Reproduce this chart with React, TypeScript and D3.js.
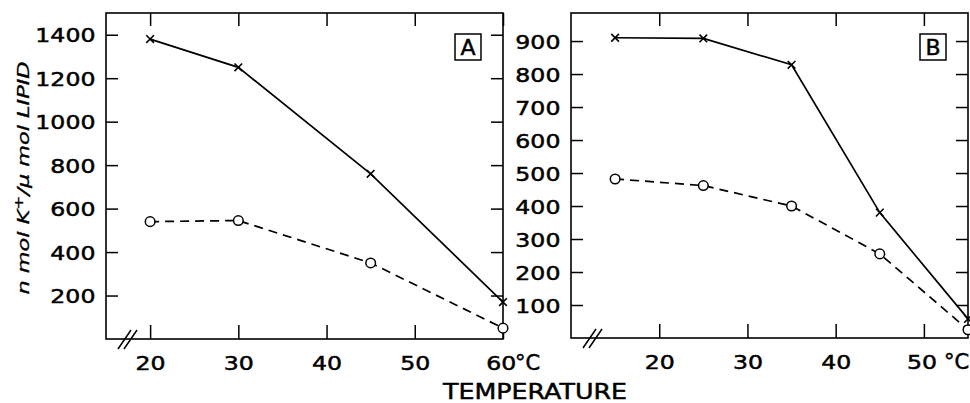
import React, { useRef, useEffect } from 'react';
import * as d3 from 'd3';

// panel A
const tempsA = [20, 30, 45, 60];
const crossA = [1380, 1250, 760, 170];
const circleA = [540, 545, 350, 50];
const xTicksA = [20, 30, 40, 50, 60];
const yTicksA = [200, 400, 600, 800, 1000, 1200, 1400];

// panel B
const tempsB = [15, 25, 35, 45, 55];
const crossB = [910, 908, 828, 380, 58];
const circleB = [482, 462, 400, 255, 25];
const xTicksB = [20, 30, 40, 50];
const yTicksB = [100, 200, 300, 400, 500, 600, 700, 800, 900];

const FONT = 'DejaVu Sans, sans-serif';

const App = () => {
  const ref = useRef(null);

  useEffect(() => {
    const svg = d3.select(ref.current);
    svg.selectAll('*').remove();

    const label = (sel, size) => sel
      .attr('font-family', FONT).attr('font-size', size).attr('fill', '#000')
      .attr('stroke', '#000').attr('stroke-width', 0.5);

    const drawPanel = (opts) => {
      const { left, right, top, bottom, xDomain, yDomain, temps, cross, circle, xTicks, yTicks, letter, unitTick, unitGap } = opts;
      const x = d3.scaleLinear().domain(xDomain).range([left, right]);
      const y = d3.scaleLinear().domain(yDomain).range([bottom, top]);
      const g = svg.append('g');

      const styleAxis = (a) => {
        a.select('.domain').remove();
        a.selectAll('line').attr('stroke', '#000').attr('stroke-width', 1.5);
      };

      // left axis with labels
      g.append('g')
        .attr('transform', `translate(${left},0)`)
        .call(d3.axisLeft(y).tickValues(yTicks).tickSize(-12).tickPadding(9).tickFormat(d3.format('d')))
        .call(styleAxis)
        .call((a) => label(a.selectAll('text'), 20)
          .attr('dy', '0.36em').attr('transform', 'scale(1.18,1)'));

      // right axis ticks
      g.append('g')
        .attr('transform', `translate(${right},0)`)
        .call(d3.axisRight(y).tickValues(yTicks).tickSize(-12).tickFormat(() => ''))
        .call(styleAxis);

      // bottom axis with labels
      g.append('g')
        .attr('transform', `translate(0,${bottom})`)
        .call(d3.axisBottom(x).tickValues(xTicks).tickSize(-14).tickPadding(0).tickFormat(d3.format('d')))
        .call(styleAxis)
        .call((a) => label(a.selectAll('text'), 20)
          .attr('y', 31).attr('dy', 0).attr('transform', 'scale(1.18,1)')
          .attr('x', (d) => (d === unitTick ? -2 : 0)));

      // top axis ticks
      g.append('g')
        .attr('transform', `translate(0,${top})`)
        .call(d3.axisTop(x).tickValues(xTicks).tickSize(-13).tickFormat(() => ''))
        .call(styleAxis);

      // frame
      g.append('rect')
        .attr('x', left).attr('y', top)
        .attr('width', right - left).attr('height', bottom - top)
        .attr('fill', 'none').attr('stroke', '#000').attr('stroke-width', 1.6);

      // axis break
      [0, 6].forEach((o) => {
        g.append('line')
          .attr('x1', left + 12 + o).attr('y1', bottom + 10)
          .attr('x2', left + 25 + o).attr('y2', bottom - 9)
          .attr('stroke', '#000').attr('stroke-width', 1.5);
      });

      // unit label
      label(g.append('text'), 21)
        .attr('x', x(unitTick) + unitGap).attr('y', bottom + 31)
        .attr('transform', null)
        .text('°C');

      // lines
      const line = d3.line().x((d) => x(d[0])).y((d) => y(d[1]));
      g.append('path')
        .datum(temps.map((t, i) => [t, cross[i]]))
        .attr('d', line).attr('fill', 'none').attr('stroke', '#000').attr('stroke-width', 1.7);
      g.append('path')
        .datum(temps.map((t, i) => [t, circle[i]]))
        .attr('d', line).attr('fill', 'none').attr('stroke', '#000').attr('stroke-width', 1.7)
        .attr('stroke-dasharray', '9,6');

      // markers
      const crossPath = d3.symbol().type(d3.symbolX).size(40);
      g.selectAll('.cross')
        .data(temps.map((t, i) => [t, cross[i]]))
        .enter().append('path')
        .attr('transform', (d) => `translate(${x(d[0])},${y(d[1])})`)
        .attr('d', crossPath)
        .attr('fill', 'none').attr('stroke', '#000').attr('stroke-width', 1.6);
      g.selectAll('.circ')
        .data(temps.map((t, i) => [t, circle[i]]))
        .enter().append('circle')
        .attr('cx', (d) => x(d[0])).attr('cy', (d) => y(d[1])).attr('r', 4.8)
        .attr('fill', '#fff').attr('stroke', '#000').attr('stroke-width', 1.5);

      // panel letter
      const bx = right - 48;
      g.append('rect')
        .attr('x', bx).attr('y', top + 21).attr('width', 26).attr('height', 26)
        .attr('fill', 'none').attr('stroke', '#000').attr('stroke-width', 1.5);
      label(g.append('text'), 22)
        .attr('x', bx + 13).attr('y', top + 42)
        .attr('text-anchor', 'middle')
        .text(letter);
    };

    drawPanel({
      left: 106, right: 503, top: 13, bottom: 339,
      xDomain: [15, 60], yDomain: [0, 1500],
      temps: tempsA, cross: crossA, circle: circleA,
      xTicks: xTicksA, yTicks: yTicksA, letter: 'A', unitTick: 60, unitGap: 12,
    });
    drawPanel({
      left: 571, right: 968, top: 13, bottom: 338,
      xDomain: [10, 55], yDomain: [0, 985],
      temps: tempsB, cross: crossB, circle: circleB,
      xTicks: xTicksB, yTicks: yTicksB, letter: 'B', unitTick: 50, unitGap: 20,
    });

    // axis titles
    label(svg.append('text'), 22)
      .attr('x', 443).attr('y', 399)
      .attr('textLength', 184).attr('lengthAdjust', 'spacingAndGlyphs')
      .text('TEMPERATURE');

    const yl = svg.append('text')
      .attr('transform', 'translate(29,178) rotate(-90) scale(1.4,1)')
      .attr('text-anchor', 'middle')
      .attr('font-family', FONT).attr('font-size', 16).attr('font-style', 'italic')
      .attr('fill', '#000').attr('stroke', '#000').attr('stroke-width', 0.3);
    yl.append('tspan').text('n mol K');
    yl.append('tspan').attr('font-size', 12).attr('dy', -6).text('+');
    yl.append('tspan').attr('dy', 6).text('/μ mol LIPID');
  }, []);

  return (
    <svg ref={ref} width="970" height="403" style={{ position: 'absolute', left: 0, top: 0, background: '#fff' }}></svg>
  );
};

export default App;
